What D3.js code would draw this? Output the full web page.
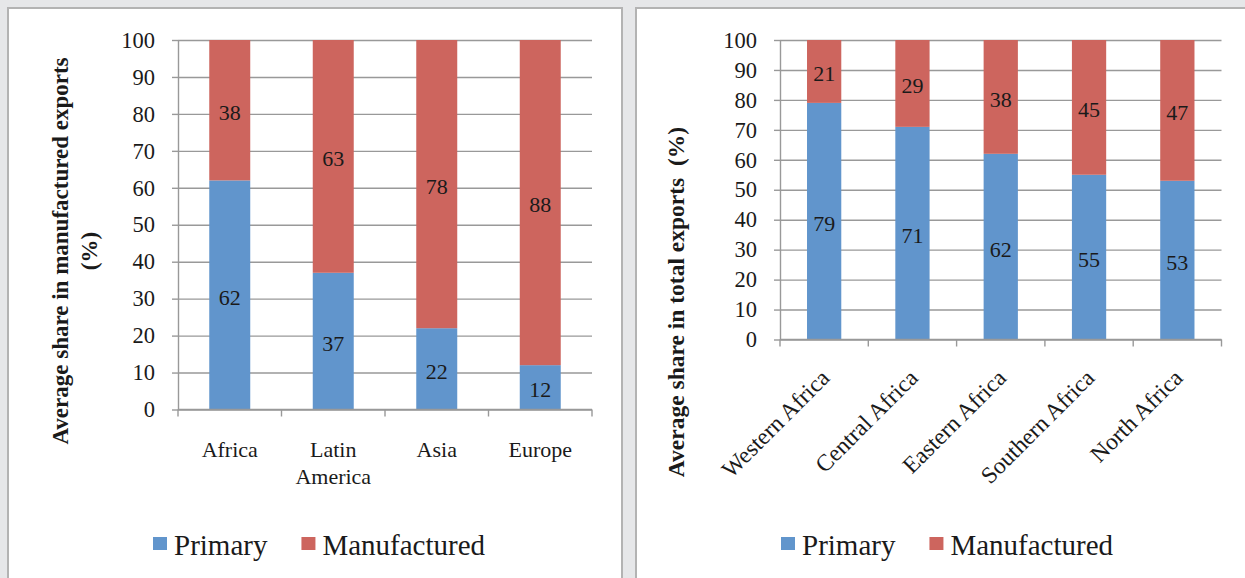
<!DOCTYPE html>
<html>
<head>
<meta charset="utf-8">
<script src="https://cdn.jsdelivr.net/npm/d3@7"></script>
<style>
  html, body { margin: 0; padding: 0; background: #e6e7e9; }
  svg { display: block; }
  svg text { font-family: "Liberation Serif", "Times New Roman", serif !important; fill: #1a1a1a; }
</style>
</head>
<body>
<svg id="chart" width="1245" height="578"></svg>
<script>
// ---- data ----
const seriesNames = ["Primary", "Manufactured"];
const seriesColors = ["#6195cc", "#cd655e"];
const yTicks = [0, 10, 20, 30, 40, 50, 60, 70, 80, 90, 100];

const leftCategories = ["Africa", "Latin America", "Asia", "Europe"];
const leftPrimary = [62, 37, 22, 12];
const leftManufactured = [38, 63, 78, 88];
const leftYTitle = ["Average share in manufactured exports", "(%)"];

const rightCategories = ["Western Africa", "Central Africa", "Eastern Africa", "Southern Africa", "North Africa"];
const rightPrimary = [79, 71, 62, 55, 53];
const rightManufactured = [21, 29, 38, 45, 47];
const rightYTitle = ["Average share in total exports  (%)"];

// ---- drawing ----
const svg = d3.select("#chart");
svg.append("rect").attr("x", 0).attr("y", 0).attr("width", 1245).attr("height", 578).attr("fill", "#e6e7e9");

const gridColor = "#999999";

function drawChart(cfg) {
  const g = svg.append("g");
  // panel
  g.append("rect")
    .attr("x", cfg.panel[0]).attr("y", cfg.panel[1])
    .attr("width", cfg.panel[2]).attr("height", cfg.panel[3])
    .attr("fill", "#ffffff").attr("stroke", "#b3b3b3").attr("stroke-width", 2);

  const x = d3.scaleBand().domain(cfg.categories).range([cfg.plot.x0, cfg.plot.x1])
    .paddingInner(cfg.pad).paddingOuter(cfg.pad / 2);
  const y = d3.scaleLinear().domain([0, 100]).range([cfg.plot.y0, cfg.plot.y1]);
  const w = cfg.plot.x1 - cfg.plot.x0;

  // gridlines
  const grid = g.append("g").attr("transform", `translate(${cfg.plot.x0},0)`)
    .call(d3.axisLeft(y).tickValues(yTicks).tickSize(-w).tickFormat(""));
  grid.select(".domain").remove();
  grid.selectAll("line").attr("stroke", gridColor).attr("stroke-width", 1.4);

  // y axis with labels
  const ya = g.append("g").attr("transform", `translate(${cfg.plot.x0},0)`)
    .call(d3.axisLeft(y).tickValues(yTicks).tickSizeInner(6).tickSizeOuter(0).tickPadding(17));
  ya.attr("font-family", null).attr("font-size", null);
  ya.select(".domain").attr("stroke", gridColor).attr("stroke-width", 1.4);
  ya.selectAll("line").attr("stroke", gridColor).attr("stroke-width", 1.4);
  ya.selectAll("text").attr("font-size", 22.5).attr("fill", "#1a1a1a");

  // stacked bars
  const rows = cfg.categories.map((c, i) => ({ cat: c, Primary: cfg.primary[i], Manufactured: cfg.manufactured[i] }));
  const stack = d3.stack().keys(seriesNames)(rows);
  stack.forEach((layer, li) => {
    const lg = g.append("g");
    lg.selectAll("rect").data(layer).join("rect")
      .attr("x", d => x(d.data.cat))
      .attr("width", x.bandwidth())
      .attr("y", d => y(d[1]))
      .attr("height", d => y(d[0]) - y(d[1]))
      .attr("fill", seriesColors[li]);
    lg.selectAll("text").data(layer).join("text")
      .attr("x", d => x(d.data.cat) + x.bandwidth() / 2)
      .attr("y", d => y((d[0] + d[1]) / 2))
      .attr("dy", "0.45em")
      .attr("text-anchor", "middle")
      .attr("font-size", 22)
      .text(d => d.data[seriesNames[li]]);
  });

  // x axis line + boundary ticks
  g.append("line")
    .attr("x1", cfg.plot.x0).attr("x2", cfg.plot.x1)
    .attr("y1", y(0)).attr("y2", y(0))
    .attr("stroke", gridColor).attr("stroke-width", 1.4);
  const bounds = d3.range(cfg.categories.length + 1).map(i => cfg.plot.x0 + i * x.step());
  g.selectAll(".xt").data(bounds).join("line")
    .attr("x1", d => d).attr("x2", d => d)
    .attr("y1", y(0)).attr("y2", y(0) + 7)
    .attr("stroke", gridColor).attr("stroke-width", 1.4);

  // x labels
  if (cfg.rotate) {
    g.selectAll(".xl").data(cfg.categories).join("text")
      .attr("transform", d => `translate(${x(d) + x.bandwidth() / 2 + 1},${y(0) + 34}) rotate(-45)`)
      .attr("text-anchor", "end")
      .attr("dy", "0.35em")
      .attr("font-size", 23.5)
      .text(d => d);
  } else {
    cfg.categories.forEach(c => {
      const t = g.append("text")
        .attr("x", x(c) + x.bandwidth() / 2)
        .attr("y", y(0) + 47)
        .attr("text-anchor", "middle")
        .attr("font-size", 22);
      c.split(" ").forEach((part, i) => {
        t.append("tspan").attr("x", x(c) + x.bandwidth() / 2).attr("dy", i === 0 ? 0 : 27.5).text(part);
      });
    });
  }

  // y title
  cfg.yTitle.forEach((line, i) => {
    g.append("text")
      .attr("transform", `translate(${cfg.titleX + i * 29},${cfg.titleY}) rotate(-90)`)
      .attr("text-anchor", "middle")
      .attr("font-weight", "bold")
      .attr("font-size", cfg.titleSize)
      .style("white-space", "pre")
      .text(line);
  });

  // legend
  const leg = g.append("g").attr("transform", `translate(${cfg.legend[0]},${cfg.legend[1]})`);
  let cx = 0;
  seriesNames.forEach((name, i) => {
    leg.append("rect").attr("x", cx).attr("y", -18).attr("width", 14).attr("height", 13)
      .attr("fill", seriesColors[i]);
    const t = leg.append("text").attr("x", cx + 21).attr("y", 0).attr("font-size", 29).text(name);
    cx += 21 + t.node().getComputedTextLength() + 34;
  });
}

drawChart({
  panel: [8, 8, 614, 620],
  plot: { x0: 178, x1: 592, y0: 409.5, y1: 40 },
  pad: 0.604,
  categories: leftCategories,
  primary: leftPrimary,
  manufactured: leftManufactured,
  rotate: false,
  yTitle: leftYTitle,
  titleSize: 23,
  titleX: 68, titleY: 251,
  legend: [153, 555]
});

drawChart({
  panel: [636, 8, 640, 620],
  plot: { x0: 780, x1: 1221.5, y0: 339.5, y1: 40 },
  pad: 0.612,
  categories: rightCategories,
  primary: rightPrimary,
  manufactured: rightManufactured,
  rotate: true,
  yTitle: rightYTitle,
  titleSize: 23.5,
  titleX: 684, titleY: 302,
  legend: [781, 555]
});
</script>
</body>
</html>
